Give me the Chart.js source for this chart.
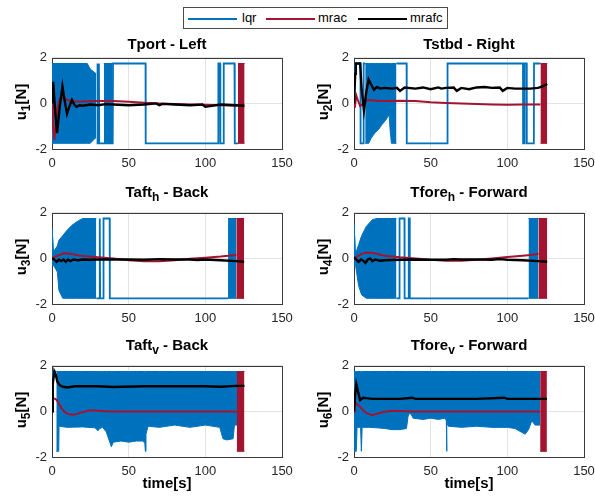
<!DOCTYPE html>
<html>
<head>
<meta charset="utf-8">
<script src="https://cdn.jsdelivr.net/npm/chart.js@4.4.1/dist/chart.umd.min.js"></script>
<style>
  html, body { margin:0; padding:0; background:#fff; }
  body { width:595px; height:504px; position:relative; overflow:hidden; font-family:"Liberation Sans", Arial, sans-serif; }
  canvas { position:absolute; }
  .title { position:absolute; font-weight:bold; font-size:15px; line-height:15px; color:#000; white-space:nowrap; transform:translateX(-50%); }
  .title sub, .ylab sub { font-size:12px; vertical-align:-4px; line-height:0; }
  .ylab { position:absolute; font-weight:bold; font-size:15px; line-height:18px; height:18px; width:80px; text-align:center; color:#000; white-space:nowrap; transform:translate(-50%,-50%) rotate(-90deg); }
  .xlab { position:absolute; font-weight:bold; font-size:15px; line-height:15px; color:#000; white-space:nowrap; transform:translateX(-50%); }
  #legend { position:absolute; left:183px; top:7px; width:263px; height:20px; border:1px solid #4a4a4a; background:#fff; }
  #legend .sw { position:absolute; top:10px; height:2px; width:49px; }
  #legend .lt { position:absolute; top:2px; font-size:13px; line-height:16px; color:#000; }
</style>
</head>
<body>
<div id="legend">
  <span class="sw" style="left:4px;background:#0072BD"></span><span class="lt" style="left:58px">lqr</span>
  <span class="sw" style="left:82px;background:#A2142F"></span><span class="lt" style="left:134px">mrac</span>
  <span class="sw" style="left:174px;background:#000"></span><span class="lt" style="left:226px">mrafc</span>
</div>

<canvas id="c1" width="284" height="130" style="left:22px;top:45px"></canvas>
<canvas id="c2" width="284" height="130" style="left:324px;top:45px"></canvas>
<canvas id="c3" width="284" height="130" style="left:22px;top:200px"></canvas>
<canvas id="c4" width="284" height="130" style="left:324px;top:200px"></canvas>
<canvas id="c5" width="284" height="130" style="left:22px;top:353px"></canvas>
<canvas id="c6" width="284" height="130" style="left:324px;top:353px"></canvas>

<div class="title" style="left:167px;top:35.5px">Tport - Left</div>
<div class="title" style="left:469px;top:35.5px">Tstbd - Right</div>
<div class="title" style="left:167px;top:184px">Taft<sub>h</sub> - Back</div>
<div class="title" style="left:469px;top:184px">Tfore<sub>h</sub> - Forward</div>
<div class="title" style="left:167px;top:337px">Taft<sub>v</sub> - Back</div>
<div class="title" style="left:469px;top:337px">Tfore<sub>v</sub> - Forward</div>

<div class="ylab" style="left:21px;top:102px">u<sub>1</sub>[N]</div>
<div class="ylab" style="left:323px;top:102px">u<sub>2</sub>[N]</div>
<div class="ylab" style="left:21px;top:257px">u<sub>3</sub>[N]</div>
<div class="ylab" style="left:323px;top:257px">u<sub>4</sub>[N]</div>
<div class="ylab" style="left:21px;top:410px">u<sub>5</sub>[N]</div>
<div class="ylab" style="left:323px;top:410px">u<sub>6</sub>[N]</div>

<div class="xlab" style="left:167px;top:475px">time[s]</div>
<div class="xlab" style="left:469px;top:475px">time[s]</div>

<script>
// ---------------- axis ticks ----------------
const xTicks = [0, 50, 100, 150];
const yTicks = [-2, 0, 2];
const seriesNames = ['lqr', 'mrac', 'mrafc'];

// ---------------- Panel 1: Tport - Left ----------------
const p1LqrBandT  = [0, 23, 25, 27, 28.8, 31, 33.8, 39.6];
const p1LqrBandHi = [1.75, 1.75, 1.5, 1.4, 1.3, null, 1.75, 1.75];
const p1LqrBandLo = [-1.75, -1.75, -1.75, -1.6, -1.5, null, -1.75, -1.75];
const p1LqrStepT  = [29.4, 29.6, 29.8, 30.4, 30.6, 30.8, 39.6, 39.8, 61, 61.1, 108.3, 108.5, 109.6, 109.8, 111.8, 112, 119, 119.2, 121.3];
const p1LqrStepY  = [-1.75, 1.75, -1.75, -1.75, 1.75, -1.75, -1.75, 1.75, 1.75, -1.75, -1.75, 1.75, 1.75, -1.75, -1.75, 1.75, 1.75, -1.75, -1.75];
const p1MracT  = [0, 0.5, 1.5, 2.5, 3.5, 5, 7, 10, 15, 20, 30, 40, 50, 60, 70, 80, 90, 100, 110, 121];
const p1MracY  = [0, -0.8, -1.6, -0.9, -0.2, 0.2, 0.22, 0.15, 0.08, 0.08, 0.1, 0.1, 0.07, 0.03, 0, -0.03, -0.05, -0.06, -0.08, -0.1];
const p1MracBandT  = [121.3, 125.6];
const p1MracBandHi = [1.75, 1.75];
const p1MracBandLo = [-1.75, -1.75];
const p1MrafcT = [0, 0.8, 2, 3.3, 5, 6.8, 8.3, 9.8, 11.5, 13, 14.5, 16, 18, 20, 25, 30, 35, 40, 50, 60, 68, 70, 72, 80, 90, 98, 100, 110, 120, 125.5];
const p1MrafcY = [0, 0.95, -0.3, -1.3, -0.2, 0.75, 0.1, -0.45, -0.1, 0.15, -0.05, -0.15, -0.08, -0.1, -0.05, -0.08, -0.03, -0.05, -0.08, -0.05, 0, -0.08, -0.02, -0.05, -0.08, -0.05, -0.15, -0.05, -0.08, -0.1];

// ---------------- Panel 2: Tstbd - Right ----------------
const p2LqrBandT  = [7.3, 9.6, 11, 13.5, 16, 18, 20.5, 22.9, 23.6, 24.4, 27.7];
const p2LqrBandHi = [1.75, 1.75, 1.75, 1.75, 1.75, 1.75, 1.75, 1.75, 1.75, 1.75, 1.75];
const p2LqrBandLo = [-1.75, -1.75, -1.55, -1.3, -1.15, -0.95, -0.75, -0.5, -1.2, -1.75, -1.75];
const p2LqrStepT  = [0, 0.2, 4.2, 4.3, 6.2, 6.3, 7.3, 17, 27.7, 34.3, 34.4, 60.9, 61.0, 110.2, 110.3, 111.2, 111.3, 112.6, 112.7, 117.3, 117.4, 121.6];
const p2LqrStepY  = [0, 1.75, 1.75, -1.75, -1.75, 1.75, 1.75, null, 1.75, 1.75, -1.75, -1.75, 1.75, 1.75, -1.75, -1.75, 1.75, 1.75, -1.75, -1.75, 1.75, 1.75];
const p2MracT  = [0, 0.5, 1.5, 2.5, 4, 6, 8, 10, 15, 20, 30, 40, 50, 60, 70, 80, 90, 100, 110, 121.6];
const p2MracY  = [0, -0.2, 0.35, 0.15, -0.12, 0.0, 0.12, 0.15, 0.12, 0.1, 0.12, 0.1, 0.05, 0.02, 0, -0.03, -0.05, -0.06, -0.05, -0.05];
const p2MracBandT  = [121.6, 126];
const p2MracBandHi = [1.75, 1.75];
const p2MracBandLo = [-1.75, -1.75];
const p2MrafcT = [0, 0.8, 1.2, 4, 5, 6.5, 8, 9.5, 11, 13, 15, 17, 20, 25, 28, 30, 33, 40, 45, 50, 55, 57, 60, 65, 67, 70, 75, 80, 85, 90, 95, 97, 100, 105, 110, 115, 120, 123, 126];
const p2MrafcY = [0, 1.3, 1.75, 1.75, 0.6, -0.3, 0.5, 1.05, 0.85, 0.6, 0.72, 0.65, 0.68, 0.65, 0.68, 0.55, 0.7, 0.65, 0.7, 0.62, 0.7, 0.65, 0.68, 0.7, 0.55, 0.68, 0.62, 0.7, 0.72, 0.68, 0.7, 0.55, 0.68, 0.65, 0.65, 0.65, 0.68, 0.75, 0.85];

// ---------------- Panel 3: Taft_h - Back ----------------
const p3LqrBandT  = [0, 0.5, 1, 3.5, 4.5, 7, 10, 13, 16, 20, 28.9, 30, 114.8, 120.2];
const p3LqrBandHi = [1.3, 1.3, 0.3, 0.55, 0.8, 1.0, 1.25, 1.45, 1.6, 1.75, 1.75, null, 1.75, 1.75];
const p3LqrBandLo = [-0.3, -0.3, -0.3, -0.6, -1.4, -1.75, -1.75, -1.75, -1.75, -1.75, -1.75, null, -1.75, -1.75];
const p3LqrStepT  = [28.9, 30.9, 31.0, 31.3, 31.4, 33.5, 33.6, 37.6, 37.7, 114.8];
const p3LqrStepY  = [-1.75, -1.75, 1.75, 1.75, -1.75, -1.75, 1.75, 1.75, -1.75, -1.75];
const p3MracT  = [0, 3, 6, 8, 12, 16, 20, 30, 40, 50, 60, 70, 80, 90, 100, 110, 115, 120.2];
const p3MracY  = [0, 0.1, 0.18, 0.22, 0.2, 0.15, 0.1, 0.05, 0, -0.08, -0.12, -0.12, -0.08, -0.02, 0.03, 0.08, 0.12, 0.15];
const p3MracBandT  = [120.2, 125.3];
const p3MracBandHi = [1.75, 1.75];
const p3MracBandLo = [-1.75, -1.75];
const p3MrafcT = [0, 1.5, 3, 4.5, 6, 7.5, 9, 10.5, 12, 14, 17, 20, 25, 30, 40, 50, 60, 70, 80, 90, 95, 100, 110, 120, 125.3];
const p3MrafcY = [0, -0.05, -0.15, -0.05, -0.12, -0.05, -0.15, -0.05, -0.12, -0.05, -0.08, -0.05, -0.06, -0.05, -0.05, -0.05, -0.06, -0.03, -0.05, -0.05, -0.07, -0.05, -0.08, -0.12, -0.15];

// ---------------- Panel 4: Tfore_h - Forward ----------------
const p4LqrBandT  = [0, 0.5, 1, 3, 5, 8, 12, 15, 27.7, 30, 113.8, 120.3];
const p4LqrBandHi = [1.5, 1.5, 0.2, 0.6, 1.0, 1.4, 1.7, 1.75, 1.75, null, 1.75, 1.75];
const p4LqrBandLo = [-0.3, -0.3, -0.3, -1.2, -1.6, -1.75, -1.75, -1.75, -1.75, null, -1.75, -1.75];
const p4LqrStepT  = [27.7, 29.6, 29.7, 32.9, 33.0, 35.6, 35.7, 36.3, 36.4, 113.8];
const p4LqrStepY  = [-1.75, -1.75, 1.75, 1.75, -1.75, -1.75, 1.75, 1.75, -1.75, -1.75];
const p4MracT  = [0, 3, 6, 9, 12, 16, 20, 30, 40, 50, 60, 70, 80, 90, 100, 110, 115, 120.3];
const p4MracY  = [0, 0.12, 0.22, 0.26, 0.24, 0.18, 0.12, 0.05, 0, -0.06, -0.1, -0.1, -0.06, 0, 0.06, 0.12, 0.15, 0.2];
const p4MracBandT  = [120.3, 126];
const p4MracBandHi = [1.75, 1.75];
const p4MracBandLo = [-1.75, -1.75];
const p4MrafcT = [0, 1.5, 3, 4.5, 6, 7.5, 9, 10.5, 12, 14, 17, 20, 30, 40, 50, 60, 65, 70, 80, 90, 95, 100, 110, 120, 126];
const p4MrafcY = [0.05, -0.05, -0.15, -0.05, -0.1, -0.2, -0.05, 0, -0.12, -0.05, -0.1, -0.08, -0.06, -0.05, -0.06, -0.06, -0.03, -0.05, -0.05, -0.06, -0.03, -0.06, -0.08, -0.12, -0.15];

// ---------------- Panel 5: Taft_v - Back ----------------
const p5LqrBandT  = [2.8, 3.2, 4.4, 4.6, 10, 20, 28, 30, 31.1, 33, 35.4, 38.7, 40, 45, 50, 55, 59.4, 60.5, 60.9, 61.3, 62.6, 70, 80, 90, 100, 109.4, 111.5, 114, 118.1, 119, 120.7];
const p5LqrBandHi = [1.75, 1.75, 1.75, 1.75, 1.75, 1.75, 1.75, 1.75, 1.75, 1.75, 1.75, 1.75, 1.75, 1.75, 1.75, 1.75, 1.75, 1.75, 1.75, 1.75, 1.75, 1.75, 1.75, 1.75, 1.75, 1.75, 1.75, 1.75, 1.75, 1.75, 1.75];
const p5LqrBandLo = [-1.75, -1.75, -1.75, -0.65, -0.7, -0.68, -0.72, -0.85, -0.75, -0.7, -0.9, -1.55, -1.35, -1.3, -1.35, -1.3, -1.3, -1.4, -1.75, -1.0, -0.65, -0.7, -0.6, -0.7, -0.6, -0.7, -1.2, -1.25, -1.2, -0.6, -0.6];
const p5LqrStepT  = [0, 0.2, 2.8];
const p5LqrStepY  = [0, 1.75, 1.75];
const p5MracT  = [0, 0.4, 1, 2, 3, 4, 5, 6, 8, 10, 13, 16, 20, 23, 26, 30, 35, 40, 60, 80, 100, 120.5];
const p5MracY  = [0, 0.55, 0.57, 0.55, 0.5, 0.4, 0.28, 0.15, 0, -0.1, -0.15, -0.12, -0.03, 0.03, 0.05, 0.03, 0.01, 0, 0, 0, 0, 0];
const p5MracBandT  = [120.5, 125.5];
const p5MracBandHi = [1.75, 1.75];
const p5MracBandLo = [-1.75, -1.75];
const p5MrafcT = [0, 0.5, 1.5, 2.5, 3.5, 5, 7, 10, 15, 20, 30, 40, 60, 80, 100, 110, 120, 125.5];
const p5MrafcY = [0, 1.2, 1.75, 1.6, 1.3, 1.15, 1.08, 1.05, 1.1, 1.1, 1.1, 1.07, 1.1, 1.1, 1.1, 1.08, 1.12, 1.12];

// ---------------- Panel 6: Tfore_v - Forward ----------------
const p6LqrBandT  = [0, 0.5, 1.5, 2, 4.3, 4.8, 5.3, 5.9, 10, 15, 20, 25, 30, 34.2, 35.3, 36.5, 38.6, 45, 50, 55, 59.3, 60.2, 60.4, 60.6, 61.5, 70, 80, 90, 100, 105, 111.6, 113.8, 116, 118.1, 121.4];
const p6LqrBandHi = [1.75, 1.75, 1.75, 1.75, 1.75, 1.75, 1.75, 1.75, 1.75, 1.75, 1.75, 1.75, 1.75, 1.75, 1.75, 1.75, 1.75, 1.75, 1.75, 1.75, 1.75, 1.75, 1.75, 1.75, 1.75, 1.75, 1.75, 1.75, 1.75, 1.75, 1.75, 1.75, 1.75, 1.75, 1.75];
const p6LqrBandLo = [-1.75, -1.75, -1.75, -0.7, -0.7, -1.75, -0.7, -0.7, -0.7, -0.72, -0.75, -0.8, -0.8, -0.75, -0.2, -0.05, -0.3, -0.35, -0.3, -0.35, -0.3, -0.4, -1.75, -0.5, -0.65, -0.7, -0.65, -0.7, -0.7, -0.75, -1.0, -0.8, -0.4, -0.6, -0.6];
const p6LqrStepT  = [0, 0.1];
const p6LqrStepY  = [0, 1.75];
const p6MracT  = [0, 0.5, 1.2, 2, 4, 6, 8, 11, 13, 16, 20, 25, 30, 40, 121.4];
const p6MracY  = [0, 0.3, 0.36, 0.32, 0.2, 0.05, -0.07, -0.15, -0.15, -0.08, -0.02, 0.03, 0.02, 0, 0];
const p6MracBandT  = [121.4, 125.8];
const p6MracBandHi = [1.75, 1.75];
const p6MracBandLo = [-1.75, -1.75];
const p6MrafcT = [0, 0.8, 1.5, 2.5, 4, 6, 8, 12, 20, 30, 38, 40, 60, 80, 98, 100, 120, 125.8];
const p6MrafcY = [0, 0.8, 1.2, 0.9, 0.5, 0.6, 0.58, 0.55, 0.55, 0.55, 0.6, 0.55, 0.55, 0.55, 0.6, 0.55, 0.55, 0.55];

// ---------------- styling ----------------
const BLUE = '#0072BD', RED = '#A2142F', BLACK = '#000000';
const FONT = '"Liberation Sans", Arial, Helvetica, sans-serif';

function pts(T, Y) { return T.map((t, i) => ({ x: t, y: Y[i] })); }

const boxPlugin = {
  id: 'axbox',
  beforeDatasetsDraw(chart) {
    const a = chart.chartArea, c = chart.ctx;
    c.save();
    c.strokeStyle = '#3a3a3a';
    c.lineWidth = 1;
    c.strokeRect(Math.round(a.left) + 0.5, Math.round(a.top) + 0.5, Math.round(a.right - a.left), Math.round(a.bottom - a.top));
    c.restore();
  }
};

function makeChart(id, P) {
  const ds = [];
  ds.push({ label: seriesNames[2], data: pts(P.mrafcT, P.mrafcY), borderColor: BLACK, borderWidth: 2.4, order: 0 });
  ds.push({ label: seriesNames[1], data: pts(P.mracT, P.mracY), borderColor: RED, borderWidth: 2, order: 1 });
  ds.push({ label: 'mracHi', data: pts(P.mracBandT, P.mracBandHi), borderColor: RED, borderWidth: 1, order: 2 });
  ds.push({ label: 'mracLo', data: pts(P.mracBandT, P.mracBandLo), borderColor: RED, borderWidth: 1, backgroundColor: RED, fill: '-1', order: 2 });
  ds.push({ label: seriesNames[0], data: pts(P.stepT, P.stepY), borderColor: BLUE, borderWidth: 1.8, order: 3 });
  ds.push({ label: 'lqrHi', data: pts(P.bandT, P.bandHi), borderColor: BLUE, borderWidth: 1, order: 4 });
  ds.push({ label: 'lqrLo', data: pts(P.bandT, P.bandLo), borderColor: BLUE, borderWidth: 1, backgroundColor: BLUE, fill: '-1', order: 4 });
  ds.forEach(d => { d.pointRadius = 0; d.tension = 0; d.spanGaps = false; if (!d.fill) d.fill = false; });

  const tickFont = { family: FONT, size: 13 };
  new Chart(document.getElementById(id), {
    type: 'line',
    data: { datasets: ds },
    options: {
      responsive: false, animation: false, devicePixelRatio: 1,
      layout: { padding: { top: 10, right: 24, left: 0, bottom: 0 } },
      plugins: { legend: { display: false }, tooltip: { enabled: false }, title: { display: false } },
      scales: {
        x: {
          type: 'linear', min: xTicks[0], max: xTicks[xTicks.length - 1],
          afterBuildTicks: s => { s.ticks = xTicks.map(v => ({ value: v })); },
          ticks: { color: '#262626', font: tickFont, padding: 7, maxRotation: 0 },
          grid: { color: '#e3e3e3', drawTicks: false, lineWidth: 1 },
          border: { display: false },
          afterFit: s => { s.height = 26; }
        },
        y: {
          type: 'linear', min: yTicks[0], max: yTicks[yTicks.length - 1],
          afterBuildTicks: s => { s.ticks = yTicks.map(v => ({ value: v })); },
          ticks: { color: '#262626', font: tickFont, padding: 5 },
          grid: { color: '#e3e3e3', drawTicks: false, lineWidth: 1 },
          border: { display: false },
          afterFit: s => { s.width = 30; }
        }
      }
    },
    plugins: [boxPlugin]
  });
}

makeChart('c1', { bandT: p1LqrBandT, bandHi: p1LqrBandHi, bandLo: p1LqrBandLo, stepT: p1LqrStepT, stepY: p1LqrStepY,
  mracT: p1MracT, mracY: p1MracY, mracBandT: p1MracBandT, mracBandHi: p1MracBandHi, mracBandLo: p1MracBandLo, mrafcT: p1MrafcT, mrafcY: p1MrafcY });
makeChart('c2', { bandT: p2LqrBandT, bandHi: p2LqrBandHi, bandLo: p2LqrBandLo, stepT: p2LqrStepT, stepY: p2LqrStepY,
  mracT: p2MracT, mracY: p2MracY, mracBandT: p2MracBandT, mracBandHi: p2MracBandHi, mracBandLo: p2MracBandLo, mrafcT: p2MrafcT, mrafcY: p2MrafcY });
makeChart('c3', { bandT: p3LqrBandT, bandHi: p3LqrBandHi, bandLo: p3LqrBandLo, stepT: p3LqrStepT, stepY: p3LqrStepY,
  mracT: p3MracT, mracY: p3MracY, mracBandT: p3MracBandT, mracBandHi: p3MracBandHi, mracBandLo: p3MracBandLo, mrafcT: p3MrafcT, mrafcY: p3MrafcY });
makeChart('c4', { bandT: p4LqrBandT, bandHi: p4LqrBandHi, bandLo: p4LqrBandLo, stepT: p4LqrStepT, stepY: p4LqrStepY,
  mracT: p4MracT, mracY: p4MracY, mracBandT: p4MracBandT, mracBandHi: p4MracBandHi, mracBandLo: p4MracBandLo, mrafcT: p4MrafcT, mrafcY: p4MrafcY });
makeChart('c5', { bandT: p5LqrBandT, bandHi: p5LqrBandHi, bandLo: p5LqrBandLo, stepT: p5LqrStepT, stepY: p5LqrStepY,
  mracT: p5MracT, mracY: p5MracY, mracBandT: p5MracBandT, mracBandHi: p5MracBandHi, mracBandLo: p5MracBandLo, mrafcT: p5MrafcT, mrafcY: p5MrafcY });
makeChart('c6', { bandT: p6LqrBandT, bandHi: p6LqrBandHi, bandLo: p6LqrBandLo, stepT: p6LqrStepT, stepY: p6LqrStepY,
  mracT: p6MracT, mracY: p6MracY, mracBandT: p6MracBandT, mracBandHi: p6MracBandHi, mracBandLo: p6MracBandLo, mrafcT: p6MrafcT, mrafcY: p6MrafcY });
</script>
</body>
</html>
